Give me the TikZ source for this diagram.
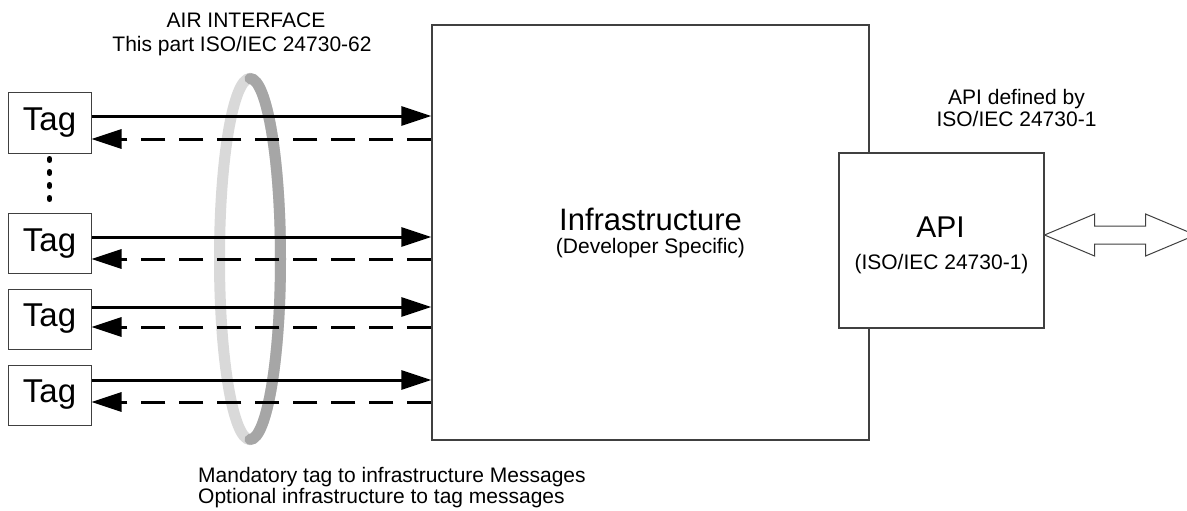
\documentclass[tikz,border=0pt]{standalone}
\usepackage{fontspec}
\setmainfont{Liberation Sans}
\usetikzlibrary{arrows.meta}
\definecolor{ringlight}{HTML}{D9D9D9}
\definecolor{ringdark}{HTML}{A6A6A6}
\definecolor{boxline}{HTML}{404040}
\tikzset{
  tagbox/.style={draw=boxline, line width=1pt, minimum width=83pt, minimum height=60pt, inner sep=0pt,
    font=\fontsize{33}{38}\selectfont},
  bigbox/.style={draw=boxline, line width=1.1pt, fill=white, inner sep=0pt},
  fwd/.style={line width=3pt, -{Triangle[length=30pt,width=19pt]}},
  back/.style={line width=3pt, dash pattern=on 24pt off 14pt, -{Triangle[length=30pt,width=19pt]}},
  small/.style={font=\fontsize{21}{25}\selectfont, inner sep=0pt, anchor=base},
  ring/.style={line width=11pt},
  dots/.style={line width=5pt, line cap=round, dash pattern=on 2pt off 11pt}
}
\begin{document}
\begin{tikzpicture}[x=1pt,y=-1pt]
\useasboundingbox (0,0) rectangle (1187,511);
\begin{scope}
\clip (0,0) rectangle (1187,511);
% ring
\draw[ring, ringlight] (250,259) ellipse [x radius=30.5, y radius=180.5];
\draw[ring, ringdark, line cap=round] (250,78.5) arc[start angle=-90, end angle=90, x radius=30.5, y radius=180.5];

% boxes
\node[bigbox, minimum width=437pt, minimum height=415pt] (inf) at (650.5,232.5) {};
\node[bigbox, minimum width=205pt, minimum height=175pt] (api) at (941.5,240.5) {};

\node[tagbox] (t1) at (49.5,123) {Tag};
\node[tagbox] (t2) at (49.5,243.5) {Tag};
\node[tagbox] (t3) at (49.5,319) {Tag};
\node[tagbox] (t4) at (49.5,395) {Tag};

\draw[dots] (t1.south) ++(0,5) coordinate (d1) (t2.north) ++(0,-5) coordinate (d2);
\draw[dots] (d1) -- (d2);

% arrows
\draw[fwd] (t1.east |- 0,116) -- (inf.west |- 0,116);
\draw[back] (inf.west |- 0,139) -- (t1.east |- 0,139);
\draw[fwd] (t2.east |- 0,237) -- (inf.west |- 0,237);
\draw[back] (inf.west |- 0,259) -- (t2.east |- 0,259);
\draw[fwd] (t3.east |- 0,307) -- (inf.west |- 0,307);
\draw[back] (inf.west |- 0,327) -- (t3.east |- 0,327);
\draw[fwd] (t4.east |- 0,380) -- (inf.west |- 0,380);
\draw[back] (inf.west |- 0,402) -- (t4.east |- 0,402);

% double arrow
\draw[draw=boxline, line width=1pt, fill=white] (api.east |- 0,235) coordinate (da)
  -- ++(50,-21) -- ++(0,12) -- ++(51,0) -- ++(0,-12) -- ++(50,21)
  -- ++(-50,21) -- ++(0,-12) -- ++(-51,0) -- ++(0,12) -- cycle;
\end{scope}

% texts
\node[small] (air1) at (246,28) {AIR INTERFACE};
\node[small] (air2) at (242,52) {This part ISO/IEC 24730-62};
\node[inner sep=0pt, anchor=base, font=\fontsize{31}{36}\selectfont] (inft) at (650.5,230) {Infrastructure};
\node[small] (infs) at (650.5,253) {(Developer Specific)};
\node[inner sep=0pt, anchor=base, font=\fontsize{30}{36}\selectfont] (apit) at (940.5,237) {API};
\node[small] (apis) at (941.5,269) {(ISO/IEC 24730-1)};
\node[small] (def1) at (1016.5,104) {API defined by};
\node[small] (def2) at (1016.5,127) {ISO/IEC 24730-1};
\node[small, anchor=base west] (m1) at (198,482) {Mandatory tag to infrastructure Messages};
\node[small, anchor=base west] (m2) at (198,503) {Optional infrastructure to tag messages};
\end{tikzpicture}
\end{document}
